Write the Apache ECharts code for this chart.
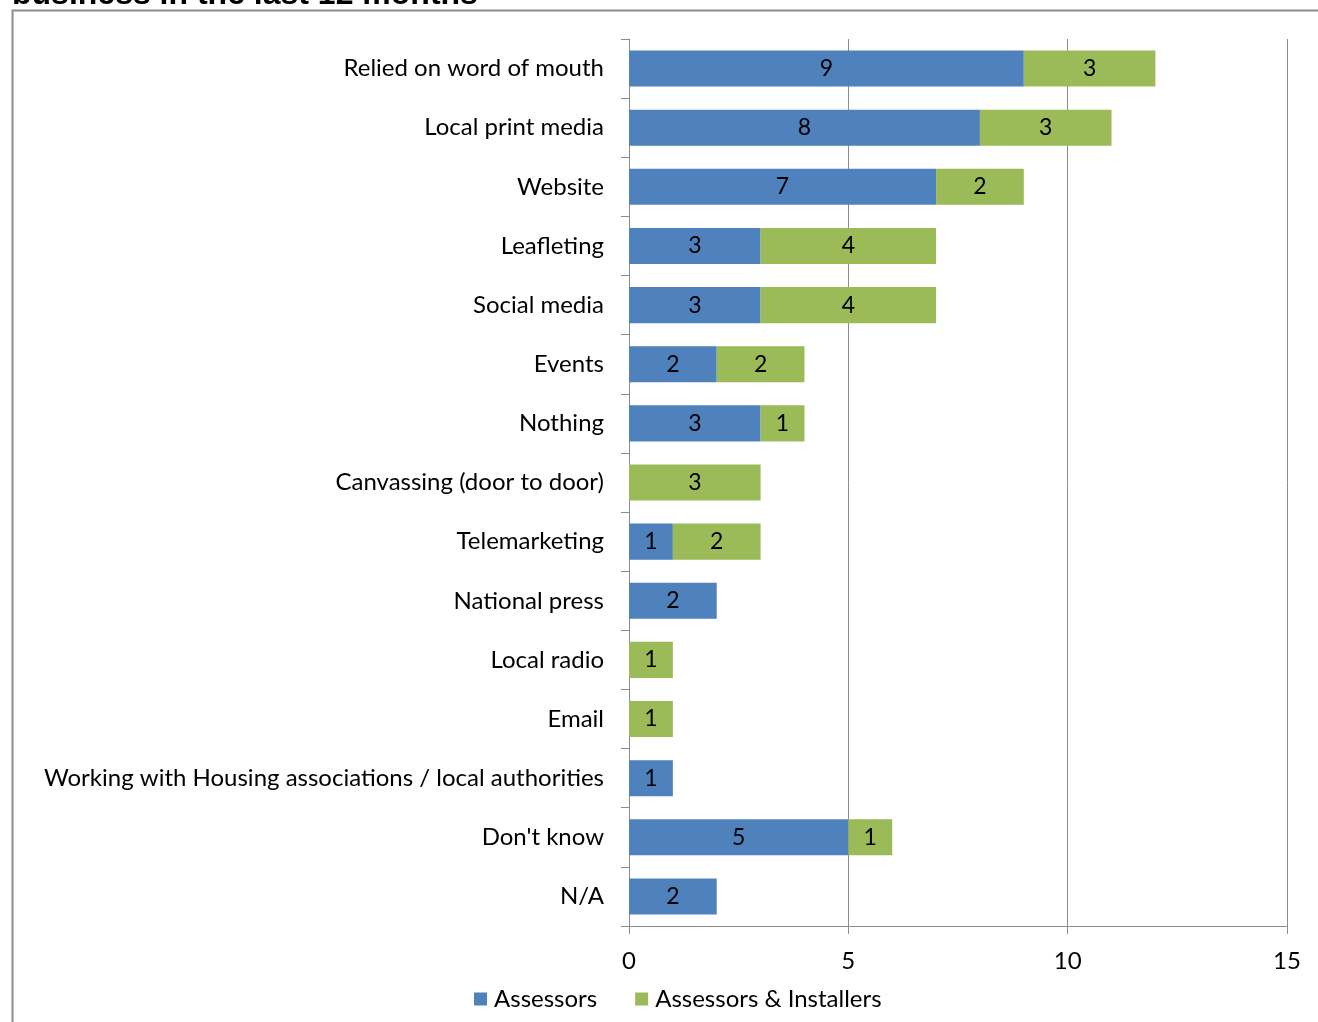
<!DOCTYPE html>
<html>
<head>
<meta charset="utf-8">
<script src="https://cdn.jsdelivr.net/npm/echarts@6/dist/echarts.min.js"></script>
<style>
  html, body { margin: 0; padding: 0; background: #fff; }
  #chart { width: 1318px; height: 1022px; }
</style>
</head>
<body>
<div id="chart"></div>
<script>
// Promotion channels, listed top to bottom
const categories = [
  'Relied on word of mouth',
  'Local print media',
  'Website',
  'Leafleting',
  'Social media',
  'Events',
  'Nothing',
  'Canvassing (door to door)',
  'Telemarketing',
  'National press',
  'Local radio',
  'Email',
  'Working with Housing associations / local authorities',
  "Don't know",
  'N/A'
];
const assessors =           [9, 8, 7, 3, 3, 2, 3, null, 1, 2, null, null, 1, 5, 2];
const assessorsInstallers = [3, 3, 2, 4, 4, 2, 1, 3, 2, null, 1, 1, null, 1, null];
const xTicks = [0, 5, 10, 15];

const FONT = 'Lato, "Open Sans", sans-serif';
const chart = echarts.init(document.getElementById('chart'));

const labelStyle = {
  show: true,
  position: 'inside',
  color: '#000',
  fontFamily: FONT,
  fontSize: 23
};

chart.setOption({
  animation: false,
  backgroundColor: '#fff',
  graphic: [
    {
      type: 'rect',
      shape: { x: 12.5, y: 10.5, width: 1340, height: 1040 },
      style: { fill: 'none', stroke: '#8c8c8c', lineWidth: 2 },
      silent: true
    },
    {
      type: 'text',
      x: 12,
      y: 11,
      style: {
        text: 'business in the last 12 months',
        fontFamily: 'Arial, "Liberation Sans", sans-serif',
        fontWeight: 'bold',
        fontSize: 32,
        fill: '#000',
        verticalAlign: 'bottom'
      }
    }
  ],
  legend: {
    bottom: 6,
    left: 469,
    itemWidth: 13,
    itemHeight: 13,
    itemGap: 38,
    icon: 'rect',
    textStyle: { fontFamily: FONT, fontSize: 24, color: '#000', padding: [0, 0, 0, 2] },
    data: ['Assessors', 'Assessors & Installers']
  },
  grid: { left: 629, right: 31, top: 39, bottom: 96 },
  xAxis: {
    type: 'value',
    min: 0,
    max: 15,
    interval: 5,
    axisLine: { show: true, lineStyle: { color: '#8c8c8c', width: 1 } },
    axisTick: { show: true, length: 8, lineStyle: { color: '#8c8c8c' } },
    splitLine: { show: true, lineStyle: { color: '#8c8c8c', width: 1 } },
    axisLabel: {
      fontFamily: FONT, fontSize: 24, color: '#000', margin: 23,
      formatter: v => xTicks.includes(v) ? String(v) : ''
    }
  },
  yAxis: {
    type: 'category',
    inverse: true,
    data: categories,
    axisLine: { show: true, lineStyle: { color: '#8c8c8c', width: 1 } },
    axisTick: { show: true, length: 8, lineStyle: { color: '#8c8c8c' } },
    axisLabel: { fontFamily: FONT, fontSize: 24, color: '#000', margin: 25 }
  },
  series: [
    {
      name: 'Assessors',
      type: 'bar',
      stack: 'total',
      barCategoryGap: '39%',
      itemStyle: { color: '#4f81bd' },
      label: labelStyle,
      data: assessors
    },
    {
      name: 'Assessors & Installers',
      type: 'bar',
      stack: 'total',
      barCategoryGap: '39%',
      itemStyle: { color: '#9bbb59' },
      label: labelStyle,
      data: assessorsInstallers
    }
  ]
});
</script>
</body>
</html>
